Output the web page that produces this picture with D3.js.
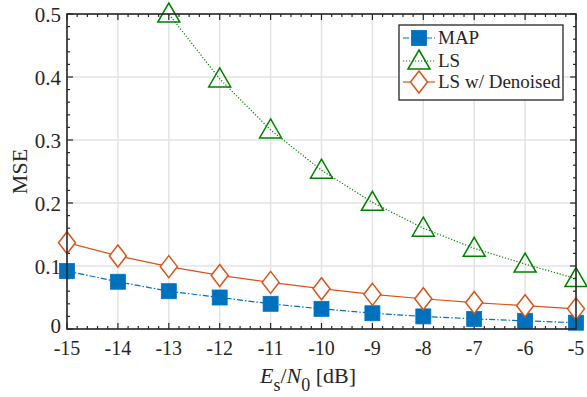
<!DOCTYPE html>
<html>
<head>
<meta charset="utf-8">
<script src="https://cdn.jsdelivr.net/npm/d3@7"></script>
<style>
  body { margin: 0; background: #fff; }
  text { font-family: "Liberation Serif", "Times New Roman", serif; fill: #262626; }
</style>
</head>
<body>
<script>
var width = 587;
var height = 397;
var margin = { top: 14, right: 11, bottom: 68, left: 67 };

// data
var snr = [-15, -14, -13, -12, -11, -10, -9, -8, -7, -6, -5];
var mseMap = [0.092, 0.075, 0.060, 0.050, 0.040, 0.032, 0.025, 0.020, 0.016, 0.013, 0.010];
var mseLs = [0.79, 0.63, 0.50, 0.397, 0.316, 0.252, 0.201, 0.160, 0.128, 0.103, 0.080];
var mseDen = [0.137, 0.116, 0.099, 0.085, 0.074, 0.064, 0.055, 0.048, 0.042, 0.037, 0.032];
var xTicks = [-15, -14, -13, -12, -11, -10, -9, -8, -7, -6, -5];
var yTicks = [0, 0.1, 0.2, 0.3, 0.4, 0.5];

var series = [
  { name: "MAP", values: mseMap, color: "#0072BD", dash: "6,2,1.5,2", marker: "square" },
  { name: "LS", values: mseLs, color: "#008000", dash: "1.2,1.8", marker: "triangle" },
  { name: "LS w/ Denoised", values: mseDen, color: "#D95319", dash: null, marker: "diamond" }
];

var svg = d3.select("body").append("svg")
  .attr("width", width)
  .attr("height", height);

var x = d3.scaleLinear().domain([-15, -5]).range([margin.left, width - margin.right]);
var y = d3.scaleLinear().domain([0, 0.5]).range([height - margin.bottom, margin.top]);

var x0 = x.range()[0], x1 = x.range()[1];
var y0 = y.range()[0], y1 = y.range()[1];

// grid
svg.append("g").selectAll("line.gx")
  .data(xTicks).enter().append("line")
  .attr("x1", function(d) { return x(d); }).attr("x2", function(d) { return x(d); })
  .attr("y1", y0).attr("y2", y1)
  .attr("stroke", "#e3e3e3").attr("stroke-width", 1.5);
svg.append("g").selectAll("line.gy")
  .data(yTicks).enter().append("line")
  .attr("y1", function(d) { return y(d); }).attr("y2", function(d) { return y(d); })
  .attr("x1", x0).attr("x2", x1)
  .attr("stroke", "#e3e3e3").attr("stroke-width", 1.5);

// minor + major ticks pointing inward on all four sides
var xMinor = d3.range(-15, -4.99, 0.2);
var yMinor = d3.range(0, 0.5001, 0.02);
var tickG = svg.append("g").attr("stroke", "#262626").attr("stroke-width", 1.2);
function isMajor(v, step) { return Math.abs(v / step - Math.round(v / step)) < 1e-6; }
xMinor.forEach(function(v) {
  var len = isMajor(v, 1) ? 6 : 3;
  tickG.append("line").attr("x1", x(v)).attr("x2", x(v)).attr("y1", y0).attr("y2", y0 - len);
  tickG.append("line").attr("x1", x(v)).attr("x2", x(v)).attr("y1", y1).attr("y2", y1 + len);
});
yMinor.forEach(function(v) {
  var len = isMajor(v, 0.1) ? 6 : 3;
  tickG.append("line").attr("y1", y(v)).attr("y2", y(v)).attr("x1", x0).attr("x2", x0 + len);
  tickG.append("line").attr("y1", y(v)).attr("y2", y(v)).attr("x1", x1).attr("x2", x1 - len);
});

// tick labels
svg.append("g").selectAll("text")
  .data(xTicks).enter().append("text")
  .attr("x", function(d) { return x(d); })
  .attr("y", y0 + 26)
  .attr("text-anchor", "middle")
  .style("font-size", "20px")
  .text(function(d) { return d; });
svg.append("g").selectAll("text")
  .data(yTicks).enter().append("text")
  .attr("x", x0 - 6)
  .attr("y", function(d) { return y(d) + (d === 0 ? 4 : 8); })
  .attr("text-anchor", "end")
  .style("font-size", "21px")
  .text(function(d) { return d; });

// axis labels
var xl = svg.append("text")
  .attr("x", 260).attr("y", 383)
  .attr("text-anchor", "start")
  .style("font-size", "22px");
xl.append("tspan").style("font-style", "italic").text("E");
xl.append("tspan").attr("dy", 8).style("font-size", "18px").text("s");
xl.append("tspan").attr("dy", -8).text("/");
xl.append("tspan").style("font-style", "italic").text("N");
xl.append("tspan").attr("dy", 8).style("font-size", "18px").text("0");
xl.append("tspan").attr("dy", -8).text(" [dB]");

svg.append("text")
  .attr("transform", "translate(27," + ((y0 + y1) / 2) + ") rotate(-90)")
  .attr("text-anchor", "middle")
  .style("font-size", "22px")
  .text("MSE");

// lines
svg.append("clipPath").attr("id", "clip")
  .append("rect").attr("x", x0).attr("y", y1).attr("width", x1 - x0).attr("height", y0 - y1);

var line = d3.line()
  .x(function(d, i) { return x(snr[i]); })
  .y(function(d) { return y(d); });

function drawMarker(g, type, color, cx, cy) {
  if (type === "square") {
    g.append("rect").attr("x", cx - 7.5).attr("y", cy - 7.5).attr("width", 15).attr("height", 15)
      .attr("fill", color).attr("stroke", color).attr("stroke-width", 0.8);
  } else if (type === "triangle") {
    g.append("path").attr("d", "M" + cx + "," + (cy - 11) + "L" + (cx + 11) + "," + (cy + 8) + "L" + (cx - 11) + "," + (cy + 8) + "Z")
      .attr("fill", "none").attr("stroke", color).attr("stroke-width", 1.5);
  } else {
    g.append("path").attr("d", "M" + cx + "," + (cy - 11) + "L" + (cx + 8.5) + "," + cy + "L" + cx + "," + (cy + 11) + "L" + (cx - 8.5) + "," + cy + "Z")
      .attr("fill", "#fff").attr("stroke", color).attr("stroke-width", 1.5);
  }
}

series.forEach(function(s) {
  var g = svg.append("g");
  g.append("path")
    .attr("d", line(s.values))
    .attr("clip-path", "url(#clip)")
    .attr("fill", "none")
    .attr("stroke", s.color)
    .attr("stroke-width", 1.2)
    .attr("stroke-dasharray", s.dash);
  s.values.forEach(function(v, i) {
    if (v <= 0.5001) drawMarker(g, s.marker, s.color, x(snr[i]), y(v));
  });
});

// axes box
svg.append("rect")
  .attr("x", x0).attr("y", y1).attr("width", x1 - x0).attr("height", y0 - y1)
  .attr("fill", "none").attr("stroke", "#262626").attr("stroke-width", 1.6);

// legend
var lg = svg.append("g");
lg.append("rect").attr("x", 399).attr("y", 25).attr("width", 164).attr("height", 75)
  .attr("fill", "#fff").attr("stroke", "#262626").attr("stroke-width", 1.3);
var legY = [38, 61, 82];
series.forEach(function(s, i) {
  lg.append("line").attr("x1", 403).attr("x2", 435).attr("y1", legY[i]).attr("y2", legY[i])
    .attr("stroke", s.color).attr("stroke-width", 1.2).attr("stroke-dasharray", s.dash);
  drawMarker(lg, s.marker, s.color, 419, legY[i]);
  lg.append("text").attr("x", 438).attr("y", legY[i] + 6)
    .style("font-size", "19px").text(s.name);
});
</script>
</body>
</html>
